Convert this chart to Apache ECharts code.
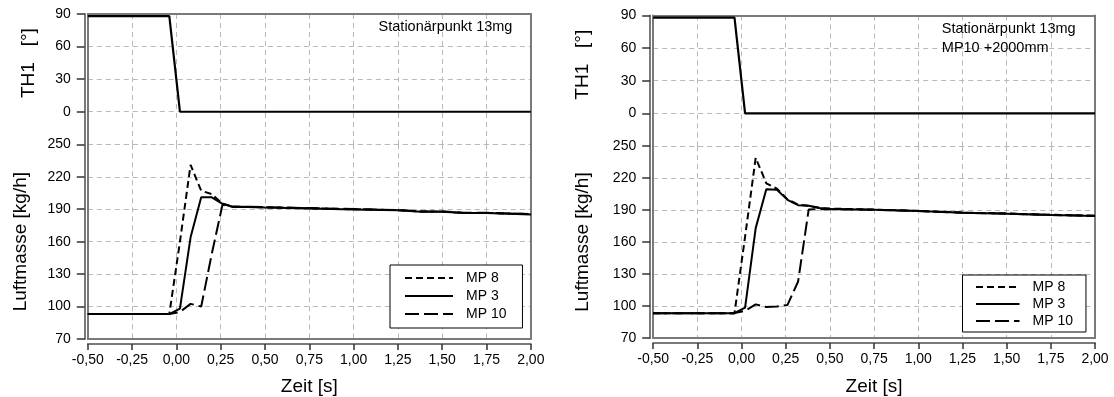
<!DOCTYPE html>
<html>
<head>
<meta charset="utf-8">
<script src="https://cdn.jsdelivr.net/npm/echarts@6/dist/echarts.min.js"></script>
<style>
html,body{margin:0;padding:0;background:#fff;}
#wrap{position:relative;width:1114px;height:397px;}
#c1{position:absolute;left:0;top:0;width:557px;height:397px;}
#c2{position:absolute;left:557px;top:0;width:557px;height:397px;}
</style>
</head>
<body>
<div id="wrap"><div id="c1"></div><div id="c2"></div></div>
<script>
// ---- data (left chart) ----
const timeL = [-0.5, -0.04, 0.02, 0.08, 0.14, 0.20, 0.26, 0.32, 0.40, 0.50, 0.75, 1.00, 1.25, 1.38, 1.50, 1.62, 1.75, 2.00];
const th1L  = [88, 88, 0, 0, 0, 0, 0, 0, 0, 0, 0, 0, 0, 0, 0, 0, 0, 0];
const mp8L  = [93, 93, 160, 231, 207, 204, 195, 192.5, 192.2, 191.8, 190.9, 190.0, 189.1, 187.8, 187.8, 186.6, 186.6, 185.4];
const mp3L  = [93, 93, 98, 164, 201, 201, 195, 192.0, 192.0, 191.5, 190.7, 189.8, 189.0, 187.6, 187.6, 186.4, 186.4, 185.2];
const mp10L = [93, 93, 95, 102.5, 100, 149, 194, 192.3, 192.2, 191.9, 191.0, 190.1, 189.2, 188.0, 187.9, 186.8, 186.7, 185.6];
// ---- data (right chart) ----
const timeR = [-0.5, -0.04, 0.02, 0.08, 0.14, 0.20, 0.26, 0.32, 0.38, 0.44, 0.50, 0.75, 1.00, 1.25, 1.50, 1.75, 2.00];
const th1R  = [88, 88, 0, 0, 0, 0, 0, 0, 0, 0, 0, 0, 0, 0, 0, 0, 0];
const mp8R  = [93.3, 93.3, 165, 239, 215, 210, 200, 195, 194, 192, 191.3, 190.4, 189.2, 187.6, 186.7, 185.5, 184.6];
const mp3R  = [93.3, 93.3, 98.5, 173, 209.5, 209, 199.5, 194.5, 194, 191.8, 191.0, 190.2, 189.0, 187.4, 186.5, 185.3, 184.4];
const mp10R = [93.3, 93.3, 95.5, 101.5, 99, 99.5, 101, 123, 190.5, 190.8, 190.8, 190.2, 189.0, 187.5, 186.6, 185.4, 184.5];
// ---- axis ticks / labels ----
const xMin = -0.5, xMax = 2.0, xStep = 0.25;
const thMin = -30, thMax = 90, thStep = 30;
const lmMin = 70, lmMax = 250, lmStep = 30;
const seriesNames = ['MP 8', 'MP 3', 'MP 10'];
const noteL = 'Stationärpunkt 13mg';
const noteR = 'Stationärpunkt 13mg\nMP10 +2000mm';

const FONT = '"Liberation Sans", Arial, sans-serif';
const FRAME = {show: true, onZero: false, lineStyle: {color: '#7a7a7a', width: 2}};
const GRIDLINE = {show: true, lineStyle: {color: '#b9b9b9', width: 1, type: [5, 4]}};
const OFF = {show: false};
const LINE_OFF = {show: false, onZero: false};

function pairs(t, v) { return t.map((x, i) => [x, v[i]]); }

function build(cfg) {
  const frameAxisX = (gi, pos, off) => ({gridIndex: gi, type: 'value', min: xMin, max: xMax, interval: xStep, position: pos, offset: off || 0,
      axisLine: FRAME, axisTick: OFF, axisLabel: OFF, splitLine: OFF});
  const frameAxisY = (gi, mn, mx, pos) => ({gridIndex: gi, type: 'value', min: mn, max: mx, position: pos,
      axisLine: FRAME, axisTick: OFF, axisLabel: OFF, splitLine: OFF});
  return {
    animation: false,
    textStyle: {fontFamily: FONT, color: '#000'},
    title: {text: cfg.note, left: cfg.noteX, top: cfg.noteY, padding: 0,
      textStyle: {fontFamily: FONT, fontSize: 14.5, fontWeight: 'normal', color: '#000', lineHeight: 19}},
    legend: {data: seriesNames, orient: 'vertical', left: cfg.legX, top: cfg.legY,
      itemWidth: cfg.legW, itemHeight: 14, itemGap: cfg.legGap, padding: cfg.legPad,
      borderColor: '#000', borderWidth: 1, backgroundColor: '#fff',
      itemStyle: {opacity: 0},
      textStyle: {fontFamily: FONT, fontSize: 14, color: '#000', padding: [0, 0, 0, 8]}},
    grid: [
      {left: cfg.left, right: cfg.right, top: cfg.top1, height: cfg.h1},
      {left: cfg.left, right: cfg.right, top: cfg.top2, height: cfg.h2}
    ],
    xAxis: [
      {gridIndex: 0, type: 'value', min: xMin, max: xMax, interval: xStep, position: 'bottom',
        axisLine: LINE_OFF, axisTick: OFF, axisLabel: OFF, splitLine: GRIDLINE},
      frameAxisX(0, 'top', 0),
      {gridIndex: 1, type: 'value', min: xMin, max: xMax, interval: xStep, position: 'bottom', offset: 5,
        axisLine: FRAME, axisTick: {show: true, length: 6, lineStyle: {color: '#333', width: 1.5}},
        axisLabel: {show: true, fontSize: 14, color: '#000', margin: 9, fontFamily: FONT,
          showMinLabel: true, showMaxLabel: true, hideOverlap: false,
          formatter: v => v.toFixed(2).replace('.', ',')},
        splitLine: GRIDLINE,
        name: 'Zeit [s]', nameLocation: 'middle', nameGap: cfg.xNameGap,
        nameTextStyle: {fontSize: 19, color: '#000', fontFamily: FONT}},
      frameAxisX(1, 'bottom', 0)
    ],
    yAxis: [
      {gridIndex: 0, type: 'value', min: thMin, max: thMax, interval: thStep, position: 'left', offset: 3,
        axisLine: FRAME, axisTick: {show: true, length: 8, lineStyle: {color: '#333', width: 1.5}},
        axisLabel: {fontSize: 14, color: '#000', margin: 14, fontFamily: FONT,
          formatter: v => (v < 0 ? '' : String(v))},
        splitLine: GRIDLINE,
        name: 'TH1   [°]', nameLocation: 'middle', nameGap: cfg.thGap,
        nameTextStyle: {fontSize: 19, color: '#000', fontFamily: FONT, padding: [0, 0, 0, 32]}},
      frameAxisY(0, thMin, thMax, 'left'),
      frameAxisY(0, thMin, thMax, 'right'),
      {gridIndex: 1, type: 'value', min: lmMin, max: lmMax, interval: lmStep, position: 'left', offset: 3,
        axisLine: FRAME, axisTick: {show: true, length: 8, lineStyle: {color: '#333', width: 1.5}},
        axisLabel: {fontSize: 14, color: '#000', margin: 14, fontFamily: FONT},
        splitLine: GRIDLINE,
        name: 'Luftmasse [kg/h]', nameLocation: 'middle', nameGap: cfg.lmGap,
        nameTextStyle: {fontSize: 19, color: '#000', fontFamily: FONT}},
      frameAxisY(1, lmMin, lmMax, 'left'),
      frameAxisY(1, lmMin, lmMax, 'right')
    ],
    series: [
      {type: 'line', name: 'TH1', xAxisIndex: 0, yAxisIndex: 0, data: pairs(cfg.t, cfg.th1),
        symbol: 'none', lineStyle: {color: '#000', width: 2.2}},
      {type: 'line', name: 'MP 10', xAxisIndex: 2, yAxisIndex: 3, data: pairs(cfg.t, cfg.mp10),
        symbol: 'none', lineStyle: {color: '#000', width: 2, type: [14, 5]}, itemStyle: {color: '#000'}},
      {type: 'line', name: 'MP 8', xAxisIndex: 2, yAxisIndex: 3, data: pairs(cfg.t, cfg.mp8),
        symbol: 'none', lineStyle: {color: '#000', width: 2, type: [7, 4]}, itemStyle: {color: '#000'}},
      {type: 'line', name: 'MP 3', xAxisIndex: 2, yAxisIndex: 3, data: pairs(cfg.t, cfg.mp3),
        symbol: 'none', lineStyle: {color: '#000', width: 2}, itemStyle: {color: '#000'}}
    ]
  };
}

const c1 = echarts.init(document.getElementById('c1'), null, {renderer: 'canvas'});
c1.setOption(build({
  t: timeL, th1: th1L, mp8: mp8L, mp3: mp3L, mp10: mp10L,
  left: 87.8, right: 26.2, top1: 14, h1: 130.3, top2: 144.3, h2: 195.3,
  note: noteL, noteX: 378.6, noteY: 17.5,
  legX: 390, legY: 265, legW: 48, legGap: 4, legPad: [6, 16, 7, 14],
  xNameGap: 33, thGap: 47, lmGap: 55
}));
const c2 = echarts.init(document.getElementById('c2'), null, {renderer: 'canvas'});
c2.setOption(build({
  t: timeR, th1: th1R, mp8: mp8R, mp3: mp3R, mp10: mp10R,
  left: 96.2, right: 19, top1: 15.4, h1: 130.6, top2: 146, h2: 196,
  note: noteR, noteX: 384.8, noteY: 19,
  legX: 405.5, legY: 275, legW: 43.5, legGap: 3, legPad: [5, 13, 4, 12.5],
  xNameGap: 34, thGap: 58, lmGap: 58
}));
</script>
</body>
</html>
